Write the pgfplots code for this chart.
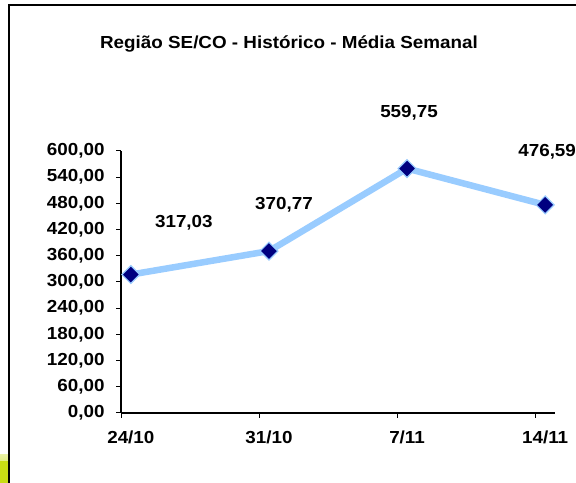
\documentclass[border=0pt]{standalone}
\usepackage{pgfplots}
\pgfplotsset{compat=1.18}
\usepackage{fontspec}
\setmainfont{Liberation Sans}
\newfontfamily\arialx[FakeStretch=1.08]{Liberation Sans}
\newcommand\lbl{\arialx\fontsize{17.5}{20}\selectfont\bfseries}
\definecolor{lineblue}{RGB}{153,204,255}
\definecolor{navy}{RGB}{0,0,128}
\definecolor{yel}{RGB}{200,220,20}
\begin{document}
\begin{tikzpicture}[x=1bp,y=1bp]
\useasboundingbox (0,0) rectangle (576,483);
\clip (0,0) rectangle (576,483);
\fill[white] (0,0) rectangle (576,483);
\shade[left color=yel!40!white, right color=yel, shading angle=0] (0,0) rectangle (8,28);
\fill[yel] (0,0) rectangle (8,22);
\draw[line width=2bp, black] (9,-10) |- (600,478);
\node[font=\lbl] at (289,439) {Região SE/CO - Histórico - Média Semanal};
\begin{axis}[
  at={(121bp,70bp)}, anchor=origin,
  scale only axis, width=434bp, height=262bp,
  xmin=0, xmax=22, ymin=0, ymax=600,
  axis lines*=left,
  axis line style={line width=1.3bp, black},
  clip=false,
  tick align=outside,
  ytick={0,60,...,600},
  major tick length=5bp,
  minor tick length=5bp,
  every tick/.style={black, line width=1bp},
  xtick={0.5,7.5,14.5,21.5},
  xticklabels={24/10,31/10,7/11,14/11},
  major x tick style={draw=none},
  minor xtick={0,7,14,21},
  xticklabel style={yshift=-9bp},
  yticklabel style={xshift=-8bp},
  tick label style={font=\lbl},
  /pgf/number format/.cd, fixed, fixed zerofill, precision=2, use comma, 1000 sep={}, assume math mode=true,
]
\addplot[color=lineblue, line width=6.5bp, mark=square*, mark size=6.3bp,
  mark options={fill=navy, draw=lineblue, line width=1.2bp, rotate=45}]
  coordinates {(0.5,317.03) (7.5,370.77) (14.5,559.75) (21.5,476.59)};
\begin{scope}[every node/.style={font=\lbl}]
\node[xshift=53bp, yshift=52bp] at (axis cs:0.5,317.03) {317,03};
\node[xshift=15bp, yshift=46bp] at (axis cs:7.5,370.77) {370,77};
\node[xshift=2bp, yshift=56bp] at (axis cs:14.5,559.75) {559,75};
\node[xshift=2bp, yshift=53bp] at (axis cs:21.5,476.59) {476,59};
\end{scope}
\end{axis}
\end{tikzpicture}
\end{document}
